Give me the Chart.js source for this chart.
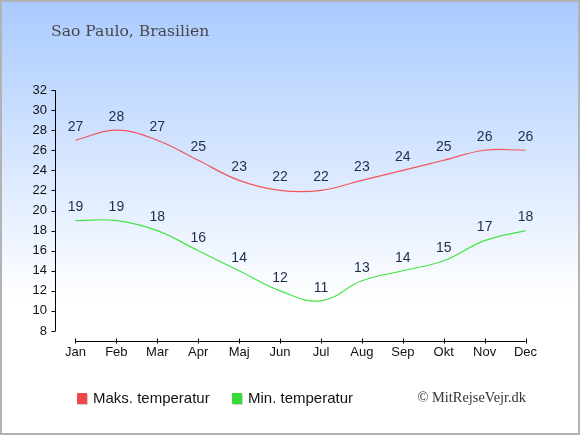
<!DOCTYPE html>
<html>
<head>
<meta charset="utf-8">
<script src="https://cdn.jsdelivr.net/npm/chart.js@4.4.1/dist/chart.umd.min.js"></script>
<style>
  html, body { margin: 0; padding: 0; background: #fff; }
  #wrap { width: 580px; height: 435px; }
</style>
</head>
<body>
<div id="wrap"><canvas id="c" width="580" height="435"></canvas></div>
<script>
const months = ["Jan","Feb","Mar","Apr","Maj","Jun","Jul","Aug","Sep","Okt","Nov","Dec"];
const maxTemp = [27,28,27,25,23,22,22,23,24,25,26,26];
const minTemp = [19,19,18,16,14,12,11,13,14,15,17,18];
const yTicks = [8,10,12,14,16,18,20,22,24,26,28,30,32];
const titleText = "Sao Paulo, Brasilien";
const creditText = "\u00A9 MitRejseVejr.dk";

const bgPlugin = {
  id: 'bg',
  beforeDraw(chart) {
    const ctx = chart.ctx;
    const w = chart.width, h = chart.height;
    ctx.save();
    const g = ctx.createLinearGradient(0, 0, 0, 300);
    g.addColorStop(0, '#a9caff');
    g.addColorStop(1, '#ffffff');
    ctx.fillStyle = g;
    ctx.fillRect(0, 0, w, h);
    ctx.restore();
  },
  afterDraw(chart) {
    const ctx = chart.ctx;
    const w = chart.width, h = chart.height;
    const ys = chart.scales.y, xs = chart.scales.x;
    const area = chart.chartArea;
    ctx.save();
    ctx.strokeStyle = '#000';
    ctx.lineWidth = 1;
    const ax = Math.round(area.left) + 0.5;
    ctx.beginPath();
    ctx.moveTo(ax, ys.getPixelForValue(32));
    ctx.lineTo(ax, ys.getPixelForValue(8));
    yTicks.forEach(v => {
      const py = Math.round(ys.getPixelForValue(v)) + 0.5;
      ctx.moveTo(ax - 4, py);
      ctx.lineTo(ax, py);
    });
    ctx.stroke();
    const bx = Math.round(area.bottom + 10) + 0.5;
    ctx.beginPath();
    ctx.moveTo(xs.getPixelForValue(0), bx);
    ctx.lineTo(xs.getPixelForValue(months.length - 1), bx);
    months.forEach((m, i) => {
      const px = Math.round(xs.getPixelForValue(i)) + 0.5;
      ctx.moveTo(px, bx - 3);
      ctx.lineTo(px, bx + 2);
    });
    ctx.stroke();

    ctx.fillStyle = '#484848';
    ctx.font = '15.6px "DejaVu Serif"';
    ctx.textAlign = 'left';
    ctx.textBaseline = 'middle';
    ctx.fillText(titleText, 51, 32);

    const items = chart.data.datasets.map(d => ({ label: d.label, color: d.legendColor }));
    const legendX = [77, 232];
    ctx.font = '15px "Liberation Sans", Arial, sans-serif';
    items.forEach((it, i) => {
      const x = legendX[i];
      ctx.fillStyle = 'rgba(0,0,0,0.18)';
      ctx.fillRect(x + 1, 394, 10, 11);
      ctx.fillStyle = it.color;
      ctx.fillRect(x, 393, 10, 11);
      ctx.fillStyle = '#111';
      ctx.fillText(it.label, x + 16, 398.5);
    });

    ctx.font = '14.4px "Liberation Serif", serif';
    ctx.fillStyle = '#333';
    ctx.textAlign = 'right';
    ctx.fillText(creditText, 526, 398);

    ctx.strokeStyle = '#b3b3b3';
    ctx.lineWidth = 2;
    ctx.strokeRect(1, 1, w - 2, h - 2);
    ctx.restore();
  },
  afterDatasetsDraw(chart) {
    const ctx = chart.ctx;
    ctx.save();
    ctx.font = '14px "Liberation Sans", Arial, sans-serif';
    ctx.fillStyle = '#1e2d4d';
    ctx.textAlign = 'center';
    ctx.textBaseline = 'middle';
    chart.data.datasets.forEach((ds, di) => {
      const meta = chart.getDatasetMeta(di);
      meta.data.forEach((pt, i) => {
        ctx.fillText(String(ds.data[i]), pt.x, pt.y - 13);
      });
    });
    ctx.restore();
  }
};

new Chart(document.getElementById('c'), {
  type: 'line',
  plugins: [bgPlugin],
  data: {
    labels: months,
    datasets: [
      { label: 'Maks. temperatur', data: maxTemp, borderColor: '#f25757', legendColor: '#f04848',
        borderWidth: 1.2, pointRadius: 0, tension: 0.4, fill: false },
      { label: 'Min. temperatur', data: minTemp, borderColor: '#44e544', legendColor: '#33dd33',
        borderWidth: 1.2, pointRadius: 0, tension: 0.4, fill: false }
    ]
  },
  options: {
    responsive: false,
    animation: false,
    devicePixelRatio: 1,
    layout: { padding: { top: 90, right: 34, bottom: 0, left: 0 } },
    plugins: { legend: { display: false }, title: { display: false }, tooltip: { enabled: false } },
    scales: {
      x: {
        offset: true,
        grid: { display: false, drawTicks: false },
        border: { display: false },
        ticks: { color: '#111', font: { size: 13, family: '"Liberation Sans", Arial, sans-serif' }, padding: 14, maxRotation: 0, autoSkip: false },
        afterFit(s) { s.height = 104; }
      },
      y: {
        min: 8, max: 32,
        grid: { display: false, drawTicks: false },
        border: { display: false },
        afterBuildTicks(s) { s.ticks = yTicks.map(v => ({ value: v })); },
        ticks: { color: '#111', font: { size: 13, family: '"Liberation Sans", Arial, sans-serif' }, padding: 8 },
        afterFit(s) { s.width = 55; }
      }
    }
  }
});
</script>
</body>
</html>
